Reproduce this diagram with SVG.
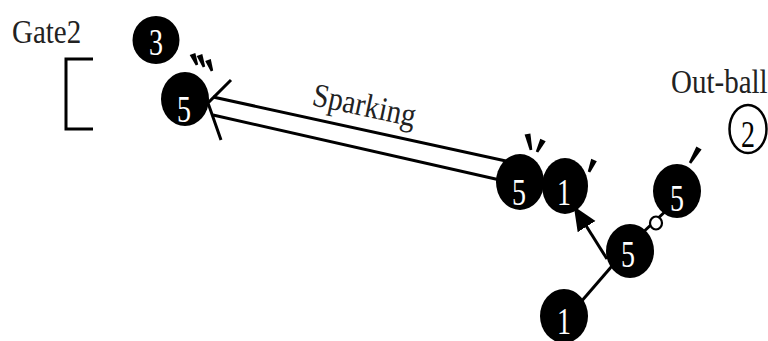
<svg xmlns="http://www.w3.org/2000/svg" width="768" height="341" viewBox="0 0 768 341">
<style>
.lbl{font-family:"Liberation Serif","Times New Roman",serif;font-size:29px;fill:#222}
.dig{font-family:"Liberation Serif","Times New Roman",serif;font-size:28px;fill:#fff;text-anchor:middle}
.digb{font-family:"Liberation Serif","Times New Roman",serif;font-size:28px;fill:#000;text-anchor:middle}
.ball{fill:#000}
.ln{stroke:#000;stroke-width:3;fill:none}
.tick{fill:#000}
</style>
<defs>
<marker id="ah" markerWidth="8" markerHeight="8" refX="1" refY="4" orient="auto" markerUnits="strokeWidth">
<path d="M0,0.5 L8,4 L0,7.5 z" fill="#000"/>
</marker>
</defs>
<rect width="768" height="341" fill="#fff"/>
<g id="labels">
<text class="lbl" transform="translate(12,43) scale(1,1.15)">Gate2</text>
<text class="lbl" font-size="27" transform="translate(671,93) scale(1,1.15)">Out-ball</text>
<text class="lbl" font-size="28" transform="translate(311,105) rotate(12) scale(1,1.15)">Sparking</text>
</g>
<g id="gate-bracket">
<polyline class="ln" points="93,59 66,59 66,129 93,129"/>
</g>
<g id="connectors">
<line class="ln" x1="213" y1="97" x2="506" y2="161"/>
<line class="ln" x1="213" y1="115" x2="500" y2="180"/>
<polyline class="ln" points="231,80 208,103 221,140"/>
<line class="ln" stroke-width="2.5" x1="607" y1="259" x2="585" y2="224" marker-end="url(#ah)"/>
<line class="ln" stroke-width="2.5" x1="580" y1="303" x2="612" y2="266"/>
<line class="ln" stroke-width="2.5" x1="638" y1="237" x2="670" y2="207"/>
<ellipse cx="656" cy="223" rx="6" ry="6.5" fill="#fff" stroke="#000" stroke-width="2.2"/>
</g>
<g id="ticks">
<polygon class="tick" points="195.3,52.9 198.2,64.5 195.8,65.5 189.7,55.1"/>
<polygon class="tick" points="202.3,53.9 205.2,66.5 202.8,67.5 196.7,56.1"/>
<polygon class="tick" points="210.8,59 213.2,70.6 210.8,71.4 205.2,61"/>
<polygon class="tick" points="530.4,133.4 532.3,149.7 529.7,150.3 524.6,134.6"/>
<polygon class="tick" points="545.7,141.3 538.2,152.6 535.8,151.4 540.3,138.7"/>
<polygon class="tick" points="596.8,161.2 590.2,172.5 587.8,171.5 591.2,158.8"/>
<polygon class="tick" points="701.6,149.5 691.1,163.7 688.9,162.3 696.4,146.5"/>
</g>
<g id="ball-3">
<ellipse class="ball" cx="156" cy="40" rx="23.5" ry="24"/>
<text class="dig" transform="translate(156,55) scale(1,1.35)">3</text>
</g>
<g id="ball-5-gate">
<ellipse class="ball" cx="185" cy="99" rx="24" ry="27"/>
<text class="dig" transform="translate(184,122) scale(1,1.35)">5</text>
</g>
<g id="ball-5-spark">
<ellipse class="ball" cx="520" cy="182" rx="24" ry="28"/>
<text class="dig" transform="translate(519,205) scale(1,1.35)">5</text>
</g>
<g id="ball-1-top">
<ellipse class="ball" cx="565" cy="186" rx="23" ry="28"/>
<text class="dig" transform="translate(564,205) scale(1,1.35)">1</text>
</g>
<g id="ball-5-upper">
<ellipse class="ball" cx="677" cy="191" rx="24" ry="27"/>
<text class="dig" transform="translate(677,211) scale(1,1.35)">5</text>
</g>
<g id="ball-5-lower">
<ellipse class="ball" cx="630" cy="251" rx="24" ry="27"/>
<text class="dig" transform="translate(628,267) scale(1,1.35)">5</text>
</g>
<g id="ball-1-bottom">
<ellipse class="ball" cx="564" cy="316" rx="24" ry="27"/>
<text class="dig" transform="translate(564,334) scale(1,1.35)">1</text>
</g>
<g id="out-ball-2">
<ellipse cx="748" cy="129" rx="18.5" ry="24" fill="#fff" stroke="#000" stroke-width="2.5"/>
<text class="digb" transform="translate(748,147) scale(1,1.35)">2</text>
</g>
</svg>
